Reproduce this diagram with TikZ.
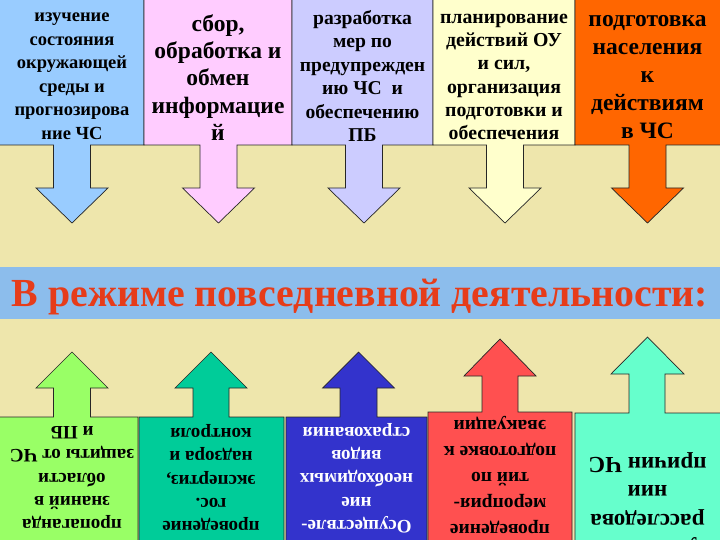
\documentclass[tikz,border=0pt]{standalone}
\usepackage{fontspec}
\setmainfont{Liberation Serif}
\definecolor{fonzhelt}{HTML}{EEE6AC}
\definecolor{goluboy}{HTML}{99CCFF}
\definecolor{rozovyy}{HTML}{FFCCFF}
\definecolor{sirenevyy}{HTML}{CCCCFF}
\definecolor{kremovyy}{HTML}{FFFFCC}
\definecolor{oranzhevyy}{HTML}{FF6600}
\definecolor{salatovyy}{HTML}{99FF66}
\definecolor{izumrudnyy}{HTML}{00CC99}
\definecolor{siniy}{HTML}{3333CC}
\definecolor{krasnyy}{HTML}{FF5050}
\definecolor{myatnyy}{HTML}{66FFCC}
\definecolor{polosa}{HTML}{8CBDEC}
\definecolor{zagolovok}{HTML}{E63C1A}

\begin{document}
\begin{tikzpicture}[x=1pt, y=-1pt, every node/.style={font=\bfseries, align=center, inner sep=0pt}, vynoska/.style={draw=black!85, line width=0.7pt}]
       \useasboundingbox (0,0) rectangle (720,540);
       \clip (0,0) rectangle (720,540);
       \fill[fonzhelt] (0,0) rectangle (720,540);

       \draw[vynoska, fill=goluboy] (-5,-5) -- (144,-5) -- (144,145) -- (90.5,145) -- (90.5,188) -- (108,188) -- (72,223) -- (36,188) -- (53.5,188) -- (53.5,145) -- (-5,145) -- cycle;
       \node[font=\fontsize{18.5}{23.5}\selectfont\bfseries] (izuchenie) at (72,76) {изучение\\состояния\\окружающей\\среды и\\прогнозирова\\ние ЧС};
       \draw[vynoska, fill=rozovyy] (144,-5) -- (292,-5) -- (292,145) -- (237,145) -- (237,188) -- (254.5,188) -- (218.5,223) -- (182.5,188) -- (200,188) -- (200,145) -- (144,145) -- cycle;
       \node[font=\fontsize{23.5}{27.3}\selectfont\bfseries] (sbor) at (218,77.5) {сбор,\\обработка и\\обмен\\информацие\\й};
       \draw[vynoska, fill=sirenevyy] (292,-5) -- (433,-5) -- (433,145) -- (382.5,145) -- (382.5,188) -- (400,188) -- (364,223) -- (328,188) -- (345.5,188) -- (345.5,145) -- (292,145) -- cycle;
       \node[font=\fontsize{19.6}{23.5}\selectfont\bfseries] (razrabotka) at (362.5,76) {разработка\\мер по\\предупрежден\\ию ЧС \ и\\обеспечению\\ПБ};
       \draw[vynoska, fill=kremovyy] (433,-5) -- (575,-5) -- (575,145) -- (523.5,145) -- (523.5,188) -- (541,188) -- (505,223) -- (469,188) -- (486.5,188) -- (486.5,145) -- (433,145) -- cycle;
       \node[font=\fontsize{19.8}{23.3}\selectfont\bfseries] (planirovanie) at (504,77) {планирование\\действий ОУ\\и сил,\\организация\\подготовки и\\обеспечения};
       \draw[vynoska, fill=oranzhevyy] (575,-5) -- (725,-5) -- (725,145) -- (666,145) -- (666,188) -- (683.5,188) -- (647.5,223) -- (611.5,188) -- (629,188) -- (629,145) -- (575,145) -- cycle;
       \node[font=\fontsize{23.5}{28}\selectfont\bfseries] (podgotovka) at (647.5,77) {подготовка\\населения\\к\\действиям\\в ЧС};

       \node[fill=polosa, minimum width=730pt, minimum height=52pt, text height=26pt, text depth=0pt, text=zagolovok, font=\fontsize{39.8}{44}\selectfont\bfseries] (rezhim) at (360,293) {В режиме повседневной деятельности:};

       \draw[vynoska, fill=salatovyy] (-5,545) -- (-5,417) -- (53.5,417) -- (53.5,388) -- (36,388) -- (72,352) -- (108,388) -- (90.5,388) -- (90.5,417) -- (138,417) -- (138,545) -- cycle;
       \node[rotate=180, font=\fontsize{19}{23.3}\selectfont\bfseries] (propaganda) at (72,477.5) {пропаганда\\знаний в\\области\\защиты от ЧС\\и ПБ};
       \draw[vynoska, fill=izumrudnyy] (139,545) -- (139,417) -- (193,417) -- (193,388) -- (175,388) -- (211,352) -- (247,388) -- (229,388) -- (229,417) -- (284,417) -- (284,545) -- cycle;
       \node[rotate=180, font=\fontsize{19}{23.3}\selectfont\bfseries] (ekspertiza) at (211,477.5) {проведение\\гос.\\экспертиз,\\надзора и\\контроля};
       \draw[vynoska, fill=siniy] (286,545) -- (286,417) -- (340,417) -- (340,388) -- (322.5,388) -- (358.5,352) -- (394.5,388) -- (377,388) -- (377,417) -- (427,417) -- (427,545) -- cycle;
       \node[rotate=180, text=white, font=\fontsize{19}{23.3}\selectfont\bfseries] (strakhovanie) at (356.5,478) {Осуществле-\\ние\\необходимых\\видов\\страхования};
       \draw[vynoska, fill=krasnyy] (428,545) -- (428,412) -- (482,412) -- (482,376) -- (464,376) -- (500,339) -- (536,376) -- (518,376) -- (518,412) -- (572,412) -- (572,545) -- cycle;
       \node[rotate=180, font=\fontsize{19.5}{26}\selectfont\bfseries] (evakuatsiya) at (500,475) {проведение\\мероприя-\\тий по\\подготовке к\\эвакуации};
       \draw[vynoska, fill=myatnyy] (575,545) -- (575,413) -- (629,413) -- (629,374) -- (611,374) -- (647.5,337) -- (684,374) -- (665,374) -- (665,413) -- (725,413) -- (725,545) -- cycle;
       \node[rotate=180, font=\fontsize{23}{28.5}\selectfont\bfseries] (rassledovanie) at (647.5,503) {участие в\\расследова\\нии\\причин ЧС};
\end{tikzpicture}
\end{document}
